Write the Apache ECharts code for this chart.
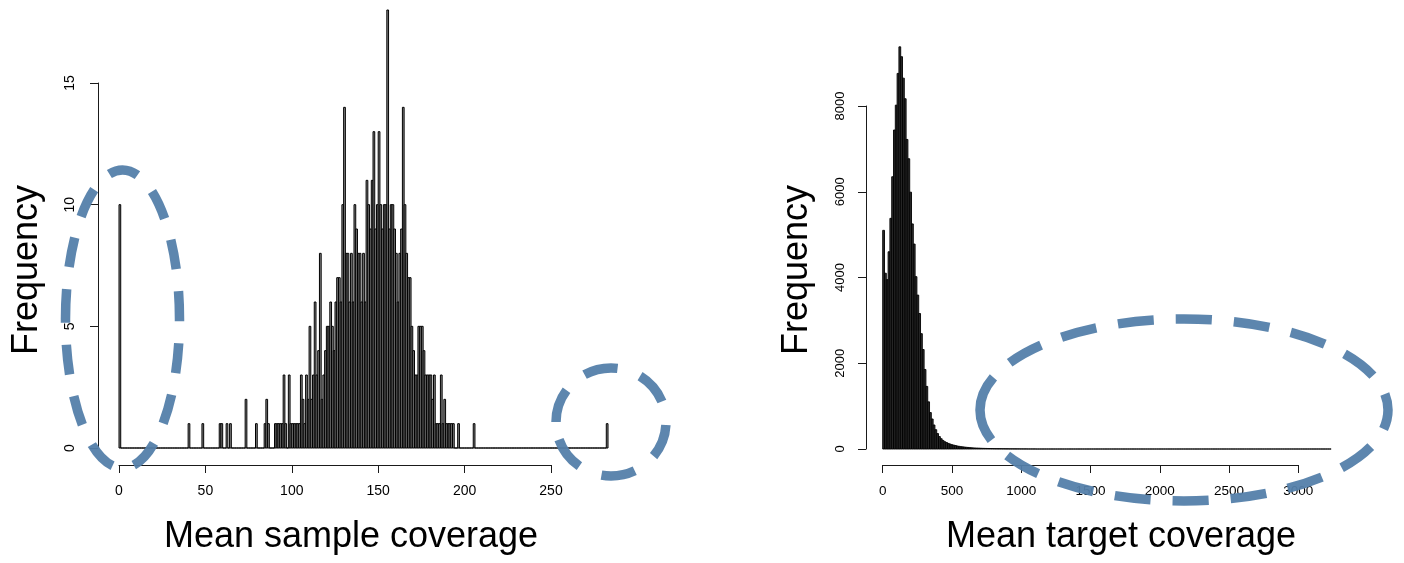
<!DOCTYPE html>
<html><head><meta charset="utf-8">
<script src="https://cdn.jsdelivr.net/npm/echarts@6/dist/echarts.min.js"></script>
<style>html,body{margin:0;padding:0;background:#fff}#c{width:1404px;height:563px}</style>
</head><body><div id="c"></div>
<script>
// ---------- Left histogram: mean sample coverage (bin width 1) ----------
const sampleBinWidth = 1;
const sampleBinTotal = 283;           // bins [0,1) ... [282,283)
const sampleBinStart = [0,40,48,58,59,62,64,73,79,84,85,86,90,91,92,93,94,95,96,98,99,100,101,102,103,104,105,106,107,108,109,110,111,112,113,114,115,116,117,118,119,120,121,122,123,124,125,126,127,128,129,130,131,132,133,134,135,136,137,138,139,140,141,142,143,144,145,146,147,148,149,150,151,152,153,154,155,156,157,158,159,160,161,162,163,164,165,166,167,168,169,170,171,172,173,174,175,176,177,178,179,180,181,182,183,184,185,186,187,188,189,190,191,192,193,196,205,282];
const sampleCounts   = [10,1,1,1,1,1,1,2,1,1,2,1,1,1,1,1,1,3,1,3,1,1,1,1,1,1,3,2,1,3,2,5,2,3,6,3,4,8,2,3,4,5,5,6,5,4,6,7,7,6,10,14,8,8,6,8,6,10,9,8,8,6,8,6,11,10,9,11,13,9,10,13,10,9,10,10,18,9,10,10,9,8,6,8,9,14,10,8,7,7,5,4,3,3,5,5,5,4,3,3,3,3,2,3,1,1,1,3,1,2,1,1,1,1,1,1,1,1];
const sampleXTicks = [0,50,100,150,200,250];
const sampleYTicks = [0,5,10,15];
const sampleYMax = 18;

// ---------- Right histogram: mean target coverage (bin width 13) ----------
const targetBinWidth = 13;
const targetBinTotal = 249;
const targetCounts = [5100,4100,3950,4600,5380,6350,7440,8020,8760,9380,9150,8650,8170,7220,6770,5990,5250,4780,4020,3590,3160,2690,2320,1855,1460,1100,850,700,560,450,360,290,240,200,170,150,130,115,100,90,80,70,62,55,50,45,40,36,32,28,25,23,21,19,17,15,14,13,12,11,10,9,8,8,7,7,6,6,5,5,4,4,4,3,3,3,2,2,2,2,1,1,1,1,1];
const targetXTicks = [0,500,1000,1500,2000,2500,3000];
const targetYTicks = [0,2000,4000,6000,8000];
const targetYMax = 9600;

// ---------- build bin tables ----------
function sampleTable(){
  const m = {}; sampleBinStart.forEach((s,i)=>{m[s]=sampleCounts[i];});
  const out=[]; for(let i=0;i<sampleBinTotal;i++){const s=i*sampleBinWidth; out.push([s,s+sampleBinWidth,m[s]||0]);} return out;
}
function targetTable(){
  const out=[]; for(let i=0;i<targetBinTotal;i++){const s=i*targetBinWidth; out.push([s,s+targetBinWidth,targetCounts[i]||0]);} return out;
}

// ---------- layout (pixels) ----------
const L = {x0:119, xPer:432/250, y0:448, yPer:365/15, yAxisX:98, xAxisY:465};
const R = {x0:882.7, xPer:415.6/3000, y0:449, yPer:343/8000, yAxisX:866, xAxisY:465};
const FONT = 'Liberation Sans';
const AX = '#1a1a1a';

function hist(xi, yi, data, fill, lw){
  return {type:'custom', xAxisIndex:xi, yAxisIndex:yi, clip:false, silent:true, animation:false,
    data:data, encode:{x:[0,1], y:2},
    renderItem:function(params, api){
      const a = api.coord([api.value(0),0]);
      const b = api.coord([api.value(1),api.value(2)]);
      return {type:'rect', shape:{x:a[0], y:b[1], width:b[0]-a[0], height:a[1]-b[1]},
        style:{fill:fill, stroke:'#000', lineWidth:lw}};
    }};
}
const hidden = (gi,min,max)=>({type:'value', gridIndex:gi, min:min, max:max, show:false});
const plain = v => String(v);
function dispX(gi, ticks, fs){
  return {type:'value', gridIndex:gi, min:ticks[0], max:ticks[ticks.length-1], interval:ticks[1]-ticks[0],
    axisLine:{show:true, lineStyle:{color:AX, width:1}}, axisTick:{show:true, length:8, lineStyle:{color:AX}},
    axisLabel:{show:true, margin:19, fontFamily:FONT, fontSize:fs, color:'#000', formatter:plain, showMinLabel:true, showMaxLabel:true},
    splitLine:{show:false}};
}
function dispY(gi, ticks, fs, margin){
  return {type:'value', gridIndex:gi, min:ticks[0], max:ticks[ticks.length-1], interval:ticks[1]-ticks[0],
    axisLine:{show:true, lineStyle:{color:AX, width:1}}, axisTick:{show:true, length:8, lineStyle:{color:AX}},
    axisLabel:{show:true, rotate:90, margin:margin, fontFamily:FONT, fontSize:fs, color:'#000', formatter:plain, showMinLabel:true, showMaxLabel:true},
    splitLine:{show:false}};
}

const grids = [
  {left:L.x0, top:L.y0 - sampleYMax*L.yPer, width:sampleBinTotal*sampleBinWidth*L.xPer, height:sampleYMax*L.yPer},
  {left:L.yAxisX, top:L.y0 - 15*L.yPer, width:10, height:15*L.yPer},
  {left:L.x0, top:L.xAxisY-60, width:250*L.xPer, height:60},
  {left:R.x0, top:R.y0 - targetYMax*R.yPer, width:targetBinTotal*targetBinWidth*R.xPer, height:targetYMax*R.yPer},
  {left:R.yAxisX, top:R.y0 - 8000*R.yPer, width:10, height:8000*R.yPer},
  {left:R.x0, top:R.xAxisY-60, width:3000*R.xPer, height:60}
];

const xAxes = [
  hidden(0, 0, sampleBinTotal*sampleBinWidth),
  hidden(1, 0, 1),
  dispX(2, sampleXTicks, 14),
  hidden(3, 0, targetBinTotal*targetBinWidth),
  hidden(4, 0, 1),
  dispX(5, targetXTicks, 13.5)
];
const yAxes = [
  hidden(0, 0, sampleYMax),
  dispY(1, sampleYTicks, 14, 21),
  hidden(2, 0, 1),
  hidden(3, 0, targetYMax),
  dispY(4, targetYTicks, 13, 19),
  hidden(5, 0, 1)
];

const blue = 'rgba(84,127,170,0.95)';
function ell(cx, cy, rx, ry, dash){
  return {type:'ellipse', x:cx, y:cy, z:100, silent:true,
    shape:{cx:0, cy:0, rx:rx, ry:ry},
    style:{fill:'none', stroke:blue, lineWidth:9.5, lineDash:dash, lineCap:'butt'}};
}
function title(text, x, y, rot){
  return {type:'text', x:x, y:y, rotation:rot, z:50, silent:true,
    style:{text:text, fontFamily:FONT, fontSize:36, fill:'#000', align:'center', verticalAlign:'middle', textAlign:'center', textVerticalAlign:'middle'}};
}

const chart = echarts.init(document.getElementById('c'), null, {renderer:'canvas'});
chart.setOption({
  backgroundColor:'#fff',
  animation:false,
  grid:grids,
  xAxis:xAxes,
  yAxis:yAxes,
  series:[hist(0,0,sampleTable(),'#8a8a8a',1), hist(3,3,targetTable(),'#2e2e2e',0.9)],
  graphic:{elements:[
    title('Frequency', 27, 270, Math.PI/2),
    title('Mean sample coverage', 351, 537, 0),
    title('Frequency', 797, 270, Math.PI/2),
    title('Mean target coverage', 1121, 537, 0),
    ell(122.5, 319, 57, 149, [30,22]),
    ell(611, 422, 55, 54, [34,24]),
    ell(1184, 410, 204, 91, [36,22])
  ]}
});
</script></body></html>
